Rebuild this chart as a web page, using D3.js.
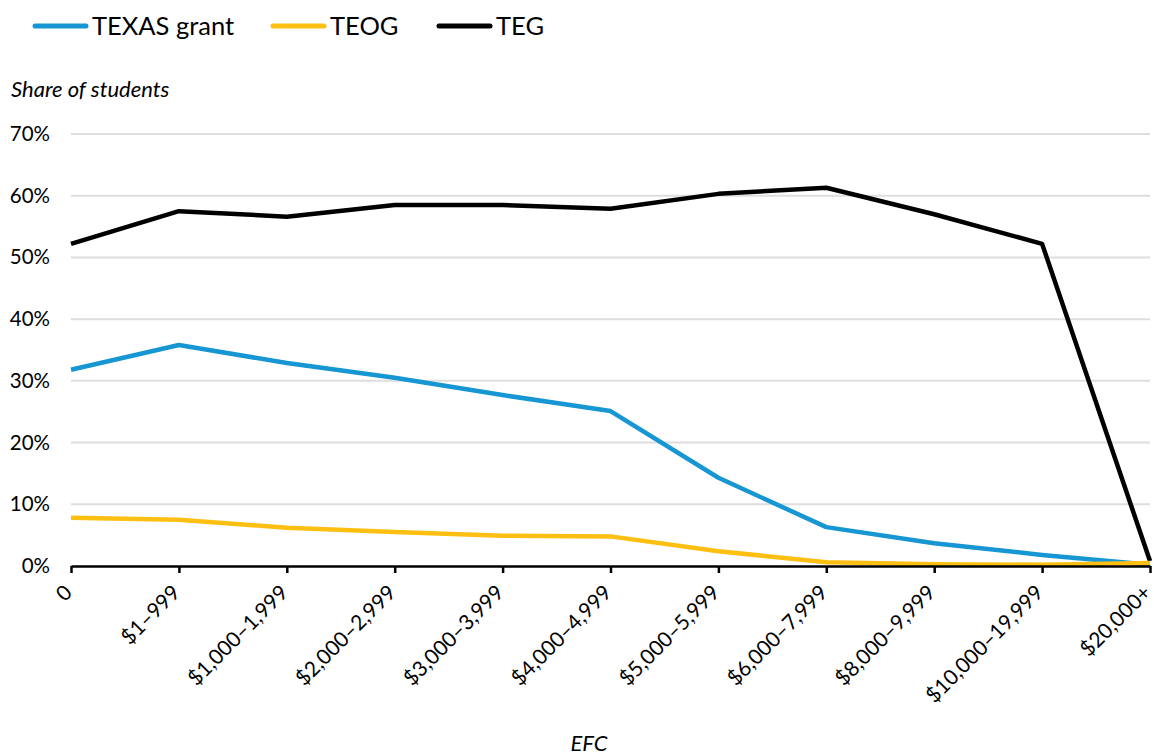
<!DOCTYPE html>
<html><head><meta charset="utf-8">
<script src="https://cdn.jsdelivr.net/npm/d3@7"></script>
<style>body{margin:0;background:#fff;font-family:Lato,"Open Sans",sans-serif;}</style>
</head><body><svg id="c" width="1154" height="755"></svg>
<script>
const categories = ["0","$1–999","$1,000–1,999","$2,000–2,999","$3,000–3,999","$4,000–4,999","$5,000–5,999","$6,000–7,999","$8,000–9,999","$10,000–19,999","$20,000+"];
const texasGrant = [31.8,35.8,32.9,30.5,27.7,25.1,14.3,6.3,3.7,1.8,0.2];
const teog = [7.8,7.5,6.2,5.5,4.9,4.8,2.4,0.6,0.3,0.2,0.5];
const teg = [52.2,57.5,56.6,58.5,58.5,57.9,60.3,61.3,57.0,52.2,0.8];
const yTicks = [0,10,20,30,40,50,60,70];
const seriesNames = ["TEXAS grant","TEOG","TEG"];
const colors = ["#1696d2","#fdbf11","#000000"];

const svg = d3.select("#c");
const x = d3.scalePoint().domain(categories).range([71,1150]);
const y = d3.scaleLinear().domain([0,70]).range([566,134]);

// gridlines
svg.append("g").selectAll("line").data(yTicks.filter(d=>d>0)).join("line")
  .attr("x1",71).attr("x2",1150).attr("y1",d=>y(d)).attr("y2",d=>y(d))
  .attr("stroke","#dedede").attr("stroke-width",2);

// y labels
svg.append("g").selectAll("text").data(yTicks).join("text")
  .attr("x",50).attr("y",d=>y(d)+7).attr("text-anchor","end")
  .attr("font-size",20.5).attr("fill","#000").text(d=>d+"%");

// lines
const line = d3.line().x((d,i)=>x(categories[i])).y(d=>y(d));
const data = [texasGrant, teog, teg];
[2,0,1].forEach(k=>{
  svg.append("path").datum(data[k]).attr("d",line).attr("fill","none")
    .attr("stroke",colors[k]).attr("stroke-width",4.5).attr("stroke-linejoin","round");
});

// x axis
const xa = svg.append("g").attr("transform","translate(0,566)")
  .call(d3.axisBottom(x).tickSizeInner(7).tickSizeOuter(0).tickPadding(0));
xa.select(".domain").attr("stroke","#000").attr("stroke-width",2.5);
xa.selectAll(".tick line").attr("stroke","#000").attr("stroke-width",2.5);
xa.selectAll(".tick text").attr("font-size",21).attr("font-family","Lato,sans-serif").attr("fill","#000")
  .attr("text-anchor","end").attr("dy",0)
  .attr("transform","translate(-3,23) rotate(-45)");

// axis titles
svg.append("text").attr("x",11).attr("y",97).attr("font-size",22).attr("font-style","italic").text("Share of students");
svg.append("text").attr("x",589).attr("y",751).attr("text-anchor","middle").attr("font-size",22).attr("font-style","italic").text("EFC");

// legend
const legX = [33,271,437];
seriesNames.forEach((n,i)=>{
  svg.append("line").attr("x1",legX[i]+2).attr("x2",legX[i]+53).attr("y1",26).attr("y2",26)
    .attr("stroke",colors[i]).attr("stroke-width",5).attr("stroke-linecap","round");
  svg.append("text").attr("x",legX[i]+59).attr("y",35).attr("font-size",25.5).text(n);
});
</script></body></html>
